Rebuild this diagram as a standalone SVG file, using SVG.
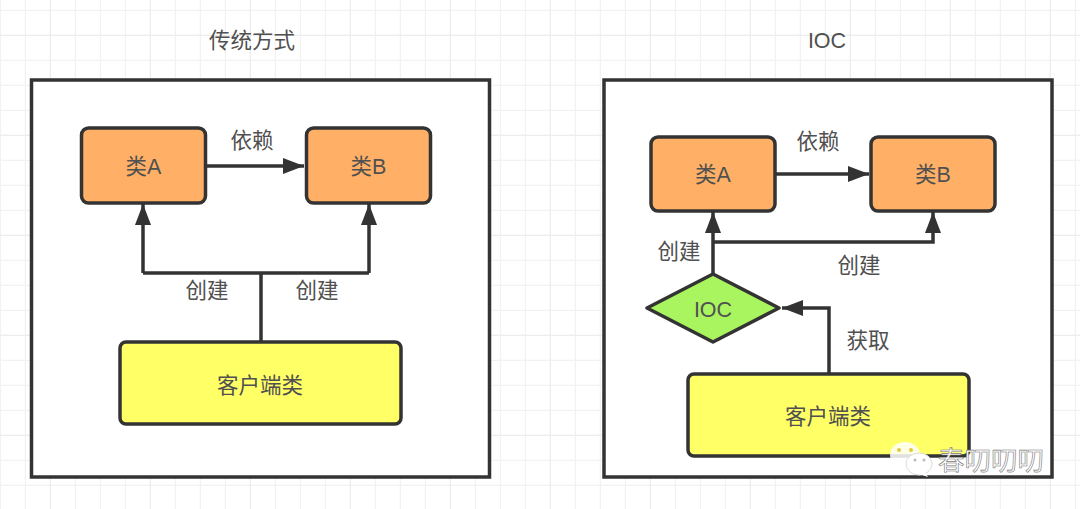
<svg xmlns="http://www.w3.org/2000/svg" width="1080" height="509" viewBox="0 0 1080 509">
<defs>
<pattern id="grid" width="25" height="25" patternUnits="userSpaceOnUse" x="1" y="-14"><path d="M25 0V25M0 25H25" fill="none" stroke="#f2f2f2" stroke-width="2.500"/></pattern>
<pattern id="gridmajor" width="100" height="100" patternUnits="userSpaceOnUse" x="-49" y="36"><path d="M100 0V100M0 100H100" fill="none" stroke="#ededed" stroke-width="2.500"/></pattern>
<marker id="arrow" markerUnits="userSpaceOnUse" markerWidth="22" markerHeight="16" refX="21" refY="8" orient="auto"><path d="M0 0L21 8L0 16Z" fill="#333"/></marker>
</defs>
<style>
.frame{fill:#fff;stroke:#333;stroke-width:3.500}
.cls{fill:#ffb066;stroke:#333;stroke-width:3.500}
.client{fill:#ffff66;stroke:#333;stroke-width:3.500}
.decision{fill:#a9f560;stroke:#333;stroke-width:3.500;stroke-linejoin:round}
.line{fill:none;stroke:#333;stroke-width:3.500}
.arr{marker-end:url(#arrow)}
text{font-family:"Liberation Sans","Noto Sans CJK SC",sans-serif;font-size:21.500px;fill:#505050;text-anchor:middle}
.wm{font-size:26.500px;fill:#fff;stroke:#777;stroke-width:.6;text-anchor:start}
</style>
<rect width="1080" height="509" fill="#fff"/>
<rect width="1080" height="509" fill="url(#grid)"/>
<rect width="1080" height="509" fill="url(#gridmajor)"/>
<text x="252" y="48">传统方式</text>
<text x="827" y="48">IOC</text>
<g id="frame-left"><rect class="frame" x="31.500" y="80" width="458" height="397"/></g>
<g id="frame-right"><rect class="frame" x="604" y="80" width="448" height="397"/></g>
<g id="connectors">
<path class="line arr" d="M205 166H304"/>
<path class="line arr" d="M143 273V204"/>
<path class="line arr" d="M369 273V204"/>
<path class="line" d="M143 273H369M261 273V342"/>
<path class="line arr" d="M775 174H869"/>
<path class="line arr" d="M713 274V212"/>
<path class="line arr" d="M713 242H933V212"/>
<path class="line arr" d="M829 374V308H782"/>
</g>
<g id="a1"><rect class="cls" x="81.500" y="128" width="124" height="75" rx="7"/><text x="143.500" y="174">类A</text></g>
<g id="b1"><rect class="cls" x="306.500" y="128" width="124" height="75" rx="7"/><text x="368.500" y="174">类B</text></g>
<g id="client1"><rect class="client" x="120" y="342" width="281" height="82" rx="6"/><text x="260" y="393">客户端类</text></g>
<g id="a2"><rect class="cls" x="651" y="137" width="124" height="74" rx="7"/><text x="713" y="182">类A</text></g>
<g id="b2"><rect class="cls" x="871" y="137" width="124" height="74" rx="7"/><text x="933" y="182">类B</text></g>
<g id="ioc"><path class="decision" d="M713 274L779 308L713 342L647 308Z"/><text x="713" y="317">IOC</text></g>
<g id="client2"><rect class="client" x="688" y="374" width="281" height="82" rx="6"/><text x="828" y="424">客户端类</text></g>
<g id="labels">
<text x="252" y="148">依赖</text>
<text x="207" y="298">创建</text>
<text x="317" y="298">创建</text>
<text x="818" y="149">依赖</text>
<text x="679" y="259">创建</text>
<text x="859" y="273">创建</text>
<text x="868" y="348">获取</text>
</g>
<g id="watermark">
<ellipse cx="905" cy="455" rx="15" ry="13" fill="#fff" fill-opacity=".85"/>
<path d="M897 465L894 471L904 467Z" fill="#fff" fill-opacity=".85"/>
<ellipse cx="919" cy="464" rx="13" ry="11" fill="#fff" stroke="#ddd"/>
<path d="M925 472L928 477L919 474Z" fill="#fff"/>
<circle cx="899" cy="450" r="2" fill="#e0c93a"/><circle cx="911" cy="450" r="2" fill="#e0c93a"/>
<circle cx="915" cy="460" r="1.500" fill="#bbb"/><circle cx="924" cy="460" r="1.500" fill="#bbb"/>
<text class="wm" x="938" y="470">春叨叨叨</text>
</g>
</svg>
